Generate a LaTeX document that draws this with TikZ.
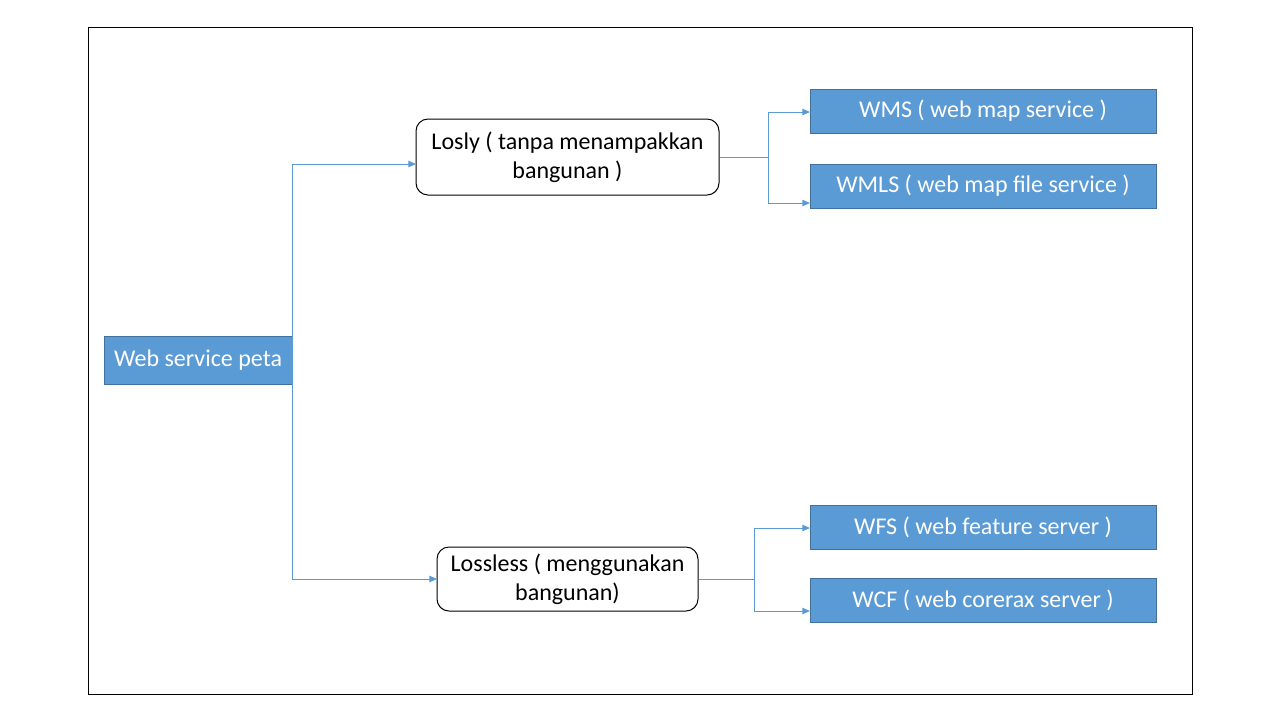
\documentclass[tikz,border=0pt]{standalone}
\usepackage{fontspec}
\setmainfont{Carlito}
\usetikzlibrary{arrows.meta}
\definecolor{boxblue}{HTML}{5B9BD5}
\definecolor{boxedge}{HTML}{41719C}

\begin{document}
\begin{tikzpicture}[x=0.5pt,y=-0.5pt,
	svc/.style={rectangle, fill=boxblue, draw=boxedge, line width=0.4pt, text=white, inner sep=0pt, font=\fontsize{12}{14.5}\selectfont},
	kind/.style={rectangle, rounded corners=6pt, draw=black, line width=0.5pt, align=center, inner sep=0pt, font=\fontsize{12}{14.5}\selectfont},
	link/.style={boxblue, line width=0.5pt},
	arr/.style={link, -{Triangle[width=3.2pt,length=3.8pt]}}]
	\useasboundingbox (0,0) rectangle (1280,720);
	\draw[black, line width=0.5pt] (88,27) rectangle (1192,694);

	\node[svc, minimum width=94pt, minimum height=24pt] (peta) at (198,360) {Web service peta};
	\node[kind, minimum width=151.5pt, minimum height=38pt] (losly) at (567.5,157) {Losly ( tanpa menampakkan\\bangunan )};
	\node[kind, minimum width=130.5pt, minimum height=32pt] (lossless) at (567.5,579) {Lossless ( menggunakan\\bangunan)};
	\node[svc, minimum width=173pt, minimum height=22pt] (wms) at (983,111) {WMS ( web map service )};
	\node[svc, minimum width=173pt, minimum height=22pt] (wmls) at (983,186) {WMLS ( web map file service )};
	\node[svc, minimum width=173pt, minimum height=22pt] (wfs) at (983,527) {WFS ( web feature server )};
	\node[svc, minimum width=173pt, minimum height=22pt] (wcf) at (983,600) {WCF ( web corerax server )};

	\coordinate (losly-in) at (416,164);
	\coordinate (lossless-in) at (437,579);
	\coordinate (split1) at (768,157);
	\coordinate (split2) at (754,579);
	\coordinate (wms-in) at (810,112);
	\coordinate (wmls-in) at (810,203);
	\coordinate (wfs-in) at (810,528);
	\coordinate (wcf-in) at (810,611);

	% web service peta
	\draw[arr] (peta.east) |- (losly-in);
	\draw[arr] (peta.east) |- (lossless-in);
	% losly
	\draw[link] (losly.east) -- (split1);
	\draw[arr] (split1) |- (wms-in);
	\draw[arr] (split1) |- (wmls-in);
	% lossless
	\draw[link] (lossless.east) -- (split2);
	\draw[arr] (split2) |- (wfs-in);
	\draw[arr] (split2) |- (wcf-in);
\end{tikzpicture}
\end{document}
